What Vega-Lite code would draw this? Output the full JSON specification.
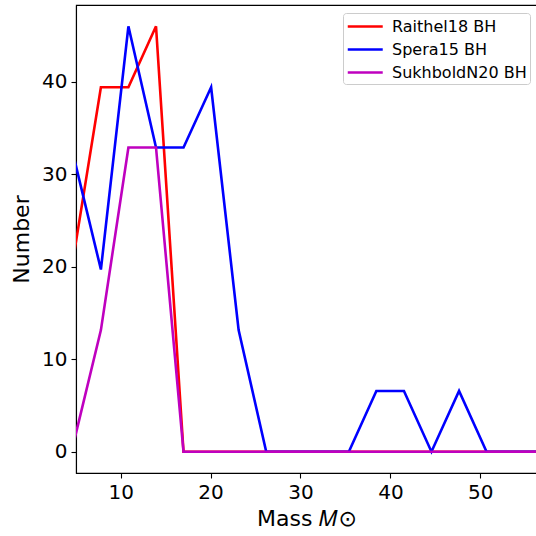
{
  "$schema": "https://vega.github.io/schema/vega-lite/v6.json",
  "autosize": {"type": "none"},
  "padding": {"left": 76, "top": 5, "right": 0, "bottom": 63},
  "width": 461,
  "height": 468,
  "config": {
    "font": "DejaVu Sans",
    "view": {"stroke": "#000000", "strokeWidth": 1.1}
  },
  "data": {
    "values": [
      {"m": 4.53, "n": 19.7, "s": "Raithel18 BH"},
      {"m": 7.8, "n": 39.4, "s": "Raithel18 BH"},
      {"m": 10.86, "n": 39.4, "s": "Raithel18 BH"},
      {"m": 13.93, "n": 46.0, "s": "Raithel18 BH"},
      {"m": 16.99, "n": 0, "s": "Raithel18 BH"},
      {"m": 20.06, "n": 0, "s": "Raithel18 BH"},
      {"m": 23.12, "n": 0, "s": "Raithel18 BH"},
      {"m": 26.19, "n": 0, "s": "Raithel18 BH"},
      {"m": 29.25, "n": 0, "s": "Raithel18 BH"},
      {"m": 32.32, "n": 0, "s": "Raithel18 BH"},
      {"m": 35.38, "n": 0, "s": "Raithel18 BH"},
      {"m": 38.44, "n": 0, "s": "Raithel18 BH"},
      {"m": 41.51, "n": 0, "s": "Raithel18 BH"},
      {"m": 44.57, "n": 0, "s": "Raithel18 BH"},
      {"m": 47.64, "n": 0, "s": "Raithel18 BH"},
      {"m": 50.7, "n": 0, "s": "Raithel18 BH"},
      {"m": 53.76, "n": 0, "s": "Raithel18 BH"},
      {"m": 56.83, "n": 0, "s": "Raithel18 BH"},
      {"m": 4.53, "n": 32.9, "s": "Spera15 BH"},
      {"m": 7.8, "n": 19.7, "s": "Spera15 BH"},
      {"m": 10.86, "n": 46.0, "s": "Spera15 BH"},
      {"m": 13.93, "n": 32.9, "s": "Spera15 BH"},
      {"m": 16.99, "n": 32.9, "s": "Spera15 BH"},
      {"m": 20.06, "n": 39.4, "s": "Spera15 BH"},
      {"m": 23.12, "n": 13.15, "s": "Spera15 BH"},
      {"m": 26.19, "n": 0, "s": "Spera15 BH"},
      {"m": 29.25, "n": 0, "s": "Spera15 BH"},
      {"m": 32.32, "n": 0, "s": "Spera15 BH"},
      {"m": 35.38, "n": 0, "s": "Spera15 BH"},
      {"m": 38.44, "n": 6.57, "s": "Spera15 BH"},
      {"m": 41.51, "n": 6.57, "s": "Spera15 BH"},
      {"m": 44.57, "n": 0, "s": "Spera15 BH"},
      {"m": 47.64, "n": 6.57, "s": "Spera15 BH"},
      {"m": 50.7, "n": 0, "s": "Spera15 BH"},
      {"m": 53.76, "n": 0, "s": "Spera15 BH"},
      {"m": 56.83, "n": 0, "s": "Spera15 BH"},
      {"m": 4.53, "n": 0, "s": "SukhboldN20 BH"},
      {"m": 7.8, "n": 13.15, "s": "SukhboldN20 BH"},
      {"m": 10.86, "n": 32.9, "s": "SukhboldN20 BH"},
      {"m": 13.93, "n": 32.9, "s": "SukhboldN20 BH"},
      {"m": 16.99, "n": 0, "s": "SukhboldN20 BH"},
      {"m": 20.06, "n": 0, "s": "SukhboldN20 BH"},
      {"m": 23.12, "n": 0, "s": "SukhboldN20 BH"},
      {"m": 26.19, "n": 0, "s": "SukhboldN20 BH"},
      {"m": 29.25, "n": 0, "s": "SukhboldN20 BH"},
      {"m": 32.32, "n": 0, "s": "SukhboldN20 BH"},
      {"m": 35.38, "n": 0, "s": "SukhboldN20 BH"},
      {"m": 38.44, "n": 0, "s": "SukhboldN20 BH"},
      {"m": 41.51, "n": 0, "s": "SukhboldN20 BH"},
      {"m": 44.57, "n": 0, "s": "SukhboldN20 BH"},
      {"m": 47.64, "n": 0, "s": "SukhboldN20 BH"},
      {"m": 50.7, "n": 0, "s": "SukhboldN20 BH"},
      {"m": 53.76, "n": 0, "s": "SukhboldN20 BH"},
      {"m": 56.83, "n": 0, "s": "SukhboldN20 BH"}
    ]
  },
  "mark": {"type": "line", "strokeWidth": 2.6, "clip": true},
  "encoding": {
    "x": {
      "field": "m",
      "type": "quantitative",
      "scale": {"domain": [5.03, 56.31], "nice": false, "zero": false},
      "axis": {
        "title": "Mass 𝑀⊙",
        "titleFontSize": 22,
        "titleFontWeight": "normal",
        "titleColor": "#000000",
        "titlePadding": 6,
        "values": [10, 20, 30, 40, 50],
        "labelFontSize": 20,
        "labelColor": "#000000",
        "labelPadding": 4,
        "tickColor": "#000000",
        "tickSize": 5,
        "tickWidth": 1.1,
        "domainColor": "#000000",
        "domainWidth": 1.1,
        "grid": false
      }
    },
    "y": {
      "field": "n",
      "type": "quantitative",
      "scale": {"domain": [-2.3, 48.3], "nice": false, "zero": false},
      "axis": {
        "title": "Number",
        "titleFontSize": 22,
        "titleFontWeight": "normal",
        "titleColor": "#000000",
        "titlePadding": 8,
        "values": [0, 10, 20, 30, 40],
        "labelFontSize": 20,
        "labelColor": "#000000",
        "labelPadding": 4,
        "tickColor": "#000000",
        "tickSize": 5,
        "tickWidth": 1.1,
        "domainColor": "#000000",
        "domainWidth": 1.1,
        "grid": false
      }
    },
    "color": {
      "field": "s",
      "type": "nominal",
      "scale": {
        "domain": ["Raithel18 BH", "Spera15 BH", "SukhboldN20 BH"],
        "range": ["#ff0000", "#0000ff", "#bf00bf"]
      },
      "legend": {
        "title": null,
        "orient": "none",
        "legendX": 267,
        "legendY": 8,
        "symbolType": "M-1,0H3",
        "symbolSize": 306,
        "symbolStrokeWidth": 2.6,
        "labelFontSize": 16,
        "labelColor": "#000000",
        "labelOffset": 25,
        "rowPadding": 4,
        "padding": 3,
        "fillColor": "#ffffff",
        "strokeColor": "#cccccc",
        "cornerRadius": 3
      }
    }
  }
}
